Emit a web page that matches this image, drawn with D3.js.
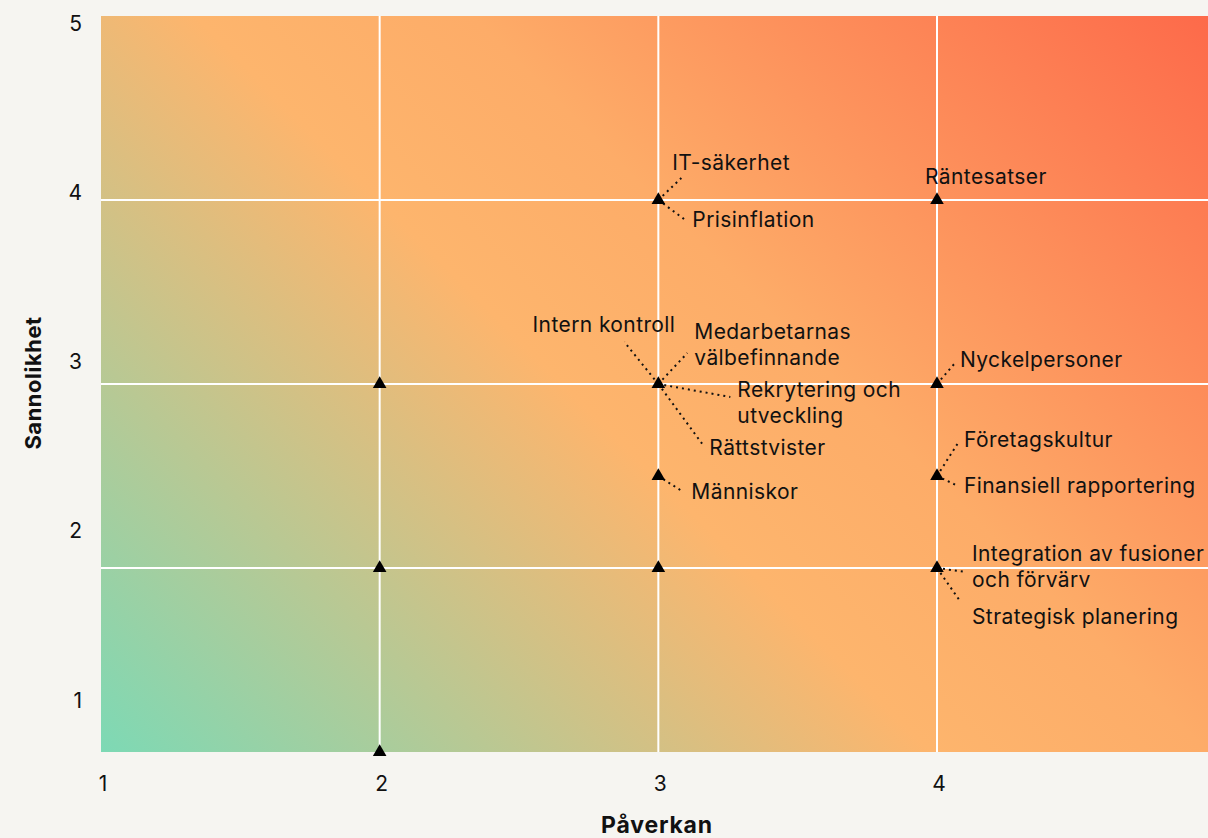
<!DOCTYPE html>
<html>
<head>
<meta charset="utf-8">
<script src="https://cdn.jsdelivr.net/npm/d3@7"></script>
<style>
  body { margin: 0; background: #f6f5f1; }
  svg { display: block; font-family: Inter, "Noto Sans", sans-serif; }
</style>
</head>
<body>
<div class="container"></div>
<script>
// Risker: påverkan (x) och sannolikhet (y)
const impact     = [2, 2, 2, 3, 3, 3, 3, 4, 4, 4, 4];
const likelihood = [3, 2, 1, 4, 3, 2.5, 2, 4, 3, 2.5, 2];

// Etiketter per punkt (index i arrayerna ovan)
const riskNames = [
  "IT-säkerhet", "Prisinflation", "Intern kontroll", "Medarbetarnas\nvälbefinnande",
  "Rekrytering och\nutveckling", "Rättstvister", "Människor", "Räntesatser",
  "Nyckelpersoner", "Företagskultur", "Finansiell rapportering",
  "Integration av fusioner\noch förvärv", "Strategisk planering"
];
const riskPoint = [3, 3, 4, 4, 4, 4, 5, 7, 8, 9, 9, 10, 10];

const xTicks = [1, 2, 3, 4];
const yTicks = [1, 2, 3, 4, 5];

// placering av etiketter relativt punkten: text dx/dy, linjens slut lx/ly
const labelLayout = [
  { dx: 14, dy: -37, lx: 23, ly: -22 },
  { dx: 34, dy: 20, lx: 27, ly: 20 },
  { dx: 17, dy: -59, lx: -34, ly: -42, anchor: "end" },
  { dx: 36, dy: -52, lx: 29, ly: -31 },
  { dx: 79, dy: 6, lx: 72, ly: 13 },
  { dx: 51, dy: 64, lx: 44, ly: 60 },
  { dx: 33, dy: 16, lx: 25, ly: 16 },
  { dx: -12, dy: -23 },
  { dx: 23, dy: -24, lx: 18, ly: -21 },
  { dx: 27, dy: -36, lx: 21, ly: -33 },
  { dx: 27, dy: 10, lx: 21, ly: 10 },
  { dx: 35, dy: -14, lx: 29, ly: 4 },
  { dx: 35, dy: 49, lx: 23, ly: 33 }
];

const width = 1208, height = 838;
const plot = { left: 101, right: 1208, top: 16, bottom: 752 };
const lineHeight = 26;

const svg = d3.select(".container").append("svg")
    .attr("width", width)
    .attr("height", height);

const x = d3.scaleLinear().domain([1, 4]).range([101, 937]);
const y = d3.scaleLinear().domain([1, 5]).range([plot.bottom, plot.top]);
// tick-etiketterna på y-axeln sitter inte exakt på rutnätet
const yLabel = d3.scaleLinear().domain([1, 5]).range([700, 23]);

// Bakgrundsgradient
const defs = svg.append("defs");
const grad = defs.append("linearGradient")
    .attr("id", "bg")
    .attr("gradientUnits", "userSpaceOnUse")
    .attr("x1", plot.left).attr("y1", plot.bottom)
    .attr("x2", plot.left + 922).attr("y2", plot.bottom - 922);
[[0, "#7dd9b5"], [0.45, "#fdb56d"], [0.6, "#fdac68"], [1, "#fd6a4a"]].forEach(s => {
  grad.append("stop").attr("offset", s[0]).attr("stop-color", s[1]);
});

svg.append("rect")
    .attr("x", plot.left).attr("y", plot.top)
    .attr("width", plot.right - plot.left)
    .attr("height", plot.bottom - plot.top)
    .attr("fill", "url(#bg)");

// Rutnät
svg.append("g").selectAll("line")
    .data([2, 3, 4])
    .join("line")
    .attr("x1", d => x(d)).attr("x2", d => x(d))
    .attr("y1", plot.top).attr("y2", plot.bottom)
    .attr("stroke", "#fff").attr("stroke-width", 2);

svg.append("g").selectAll("line")
    .data([2, 3, 4])
    .join("line")
    .attr("x1", plot.left).attr("x2", plot.right)
    .attr("y1", d => y(d)).attr("y2", d => y(d))
    .attr("stroke", "#fff").attr("stroke-width", 2);

// Axlar (bara etiketter)
svg.append("g").selectAll("text")
    .data(xTicks)
    .join("text")
    .attr("x", d => x(d) + 2)
    .attr("y", 783)
    .attr("text-anchor", "middle")
    .attr("dominant-baseline", "central")
    .attr("font-size", 21)
    .attr("fill", "#111")
    .text(d => d);

svg.append("g").selectAll("text")
    .data(yTicks)
    .join("text")
    .attr("x", 82)
    .attr("y", d => yLabel(d))
    .attr("text-anchor", "end")
    .attr("dominant-baseline", "central")
    .attr("font-size", 21)
    .attr("fill", "#111")
    .text(d => d);

svg.append("text")
    .attr("x", 657).attr("y", 825)
    .attr("text-anchor", "middle")
    .attr("dominant-baseline", "central")
    .attr("font-size", 23).attr("font-weight", 700)
    .attr("letter-spacing", 0.8)
    .attr("fill", "#111")
    .text("Påverkan");

svg.append("text")
    .attr("transform", "translate(33, 383) rotate(-90)")
    .attr("text-anchor", "middle")
    .attr("dominant-baseline", "central")
    .attr("font-size", 22).attr("font-weight", 700)
    .attr("letter-spacing", 0.5)
    .attr("fill", "#111")
    .text("Sannolikhet");

// Etiketter med prickade linjer
const labels = riskNames.map((name, i) => {
  const p = riskPoint[i];
  return Object.assign({ name, px: x(impact[p]), py: y(likelihood[p]) }, labelLayout[i]);
});

svg.append("g").selectAll("line")
    .data(labels.filter(d => d.lx !== undefined))
    .join("line")
    .attr("x1", d => d.px).attr("y1", d => d.py)
    .attr("x2", d => d.px + d.lx).attr("y2", d => d.py + d.ly)
    .attr("stroke", "#111")
    .attr("stroke-width", 2)
    .attr("stroke-dasharray", "2,4");

const txt = svg.append("g").selectAll("text")
    .data(labels)
    .join("text")
    .attr("x", d => d.px + d.dx)
    .attr("y", d => d.py + d.dy)
    .attr("text-anchor", d => d.anchor || "start")
    .attr("font-size", 21)
    .attr("letter-spacing", 0.4)
    .attr("fill", "#111");

txt.each(function (d) {
  const lines = d.name.split("\n");
  d3.select(this).selectAll("tspan")
      .data(lines)
      .join("tspan")
      .attr("x", d.px + d.dx)
      .attr("dy", (l, i) => i === 0 ? "0.35em" : lineHeight)
      .text(l => l);
});

// Punkter
svg.append("g").selectAll("path")
    .data(impact.map((v, i) => [v, likelihood[i]]))
    .join("path")
    .attr("transform", d => `translate(${x(d[0])}, ${y(d[1])})`)
    .attr("d", d3.symbol(d3.symbolTriangle, 80))
    .attr("fill", "#000");
</script>
</body>
</html>
